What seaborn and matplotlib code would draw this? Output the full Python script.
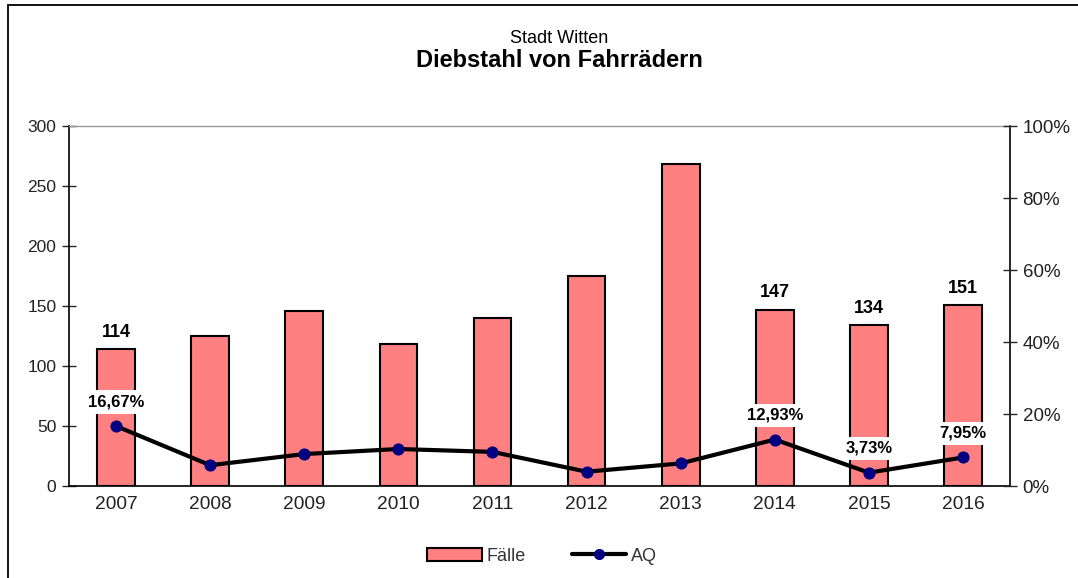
import matplotlib

matplotlib.use("Agg")
import matplotlib.pyplot as plt
import numpy as np
import pandas as pd
import seaborn as sns
from matplotlib.lines import Line2D
from matplotlib.patches import Patch, Rectangle

years = ["2007", "2008", "2009", "2010", "2011", "2012", "2013", "2014", "2015", "2016"]
faelle = [114, 125, 146, 118, 140, 175, 268, 147, 134, 151]
aq = [16.67, 5.8, 8.9, 10.3, 9.5, 4.0, 6.3, 12.93, 3.73, 7.95]
labelled = ["2007", "2014", "2015", "2016"]

sns.set_style("white")
plt.rcParams["font.family"] = ["Liberation Sans", "DejaVu Sans"]
plt.rcParams["text.color"] = "black"

df = pd.DataFrame({"Jahr": years, "Faelle": faelle, "AQ": aq})

fig = plt.figure(figsize=(10.78, 5.78), dpi=100)
ax = fig.add_axes([0.064, 0.159, 0.873, 0.623])

sns.barplot(data=df, x="Jahr", y="Faelle", color="#FF8080", saturation=1,
            edgecolor="black", linewidth=1.5, width=0.4, ax=ax)
ax.set_ylim(0, 300)
ax.set_xlim(-0.5, len(years) - 0.5)
ax.set_yticks(range(0, 301, 50))
ax.set_xlabel("")
ax.set_ylabel("")
ax.set_xticks(np.arange(len(years)))
ax.set_xticklabels(years, fontsize=13.8, color="#222222")
ax.tick_params(axis="x", length=0, pad=7)
ax.set_xticks(np.arange(-0.5, len(years)), minor=True)
ax.tick_params(axis="x", which="minor", direction="inout", length=10, width=1)
ax.tick_params(axis="y", direction="inout", length=10, width=1, labelsize=12.5,
               labelcolor="#222222", pad=4, left=True)
for s in ["left", "bottom", "right"]:
    ax.spines[s].set_color("black")
    ax.spines[s].set_linewidth(1.2)
ax.spines["top"].set_color("#999999")
ax.spines["top"].set_linewidth(1)

for i, (y, v) in enumerate(zip(years, faelle)):
    if y in labelled:
        ax.annotate(str(v), (i, v), textcoords="offset points", xytext=(0, 6),
                    ha="center", va="bottom", fontsize=13, fontweight="bold")

ax2 = ax.twinx()
sns.lineplot(x=np.arange(len(years)), y=aq, color="black", linewidth=3,
             marker="o", markersize=8, markerfacecolor="#000080",
             markeredgecolor="#000080", ax=ax2)
ax2.set_ylim(0, 100)
ax2.set_yticks(range(0, 101, 20))
ax2.set_yticklabels([f"{t}%" for t in range(0, 101, 20)])
ax2.tick_params(axis="y", direction="inout", length=10, width=1, labelsize=13.5,
                labelcolor="#222222", pad=4, right=True)
for s in ax2.spines.values():
    s.set_visible(False)

for i, (y, v) in enumerate(zip(years, aq)):
    if y in labelled:
        ax2.annotate(f"{v:.2f}%".replace(".", ","), (i, v), textcoords="offset points",
                     xytext=(0, 12), ha="center", va="bottom", fontsize=12,
                     fontweight="bold",
                     bbox=dict(boxstyle="square,pad=0.25", fc="white", ec="none"))

fig.text(0.519, 0.933, "Stadt Witten", ha="center", va="center", fontsize=13)
fig.text(0.519, 0.895, "Diebstahl von Fahrrädern", ha="center", va="center",
         fontsize=17, fontweight="bold")

handles = [
    Patch(facecolor="#FF8080", edgecolor="black", linewidth=1.5),
    Line2D([0], [0], color="black", linewidth=3, marker="o", markersize=7,
           markerfacecolor="#000080", markeredgecolor="#000080"),
]
fig.legend(handles, ["Fälle", "AQ"], loc="center", bbox_to_anchor=(0.503, 0.038),
           ncol=2, frameon=False, fontsize=13, handlelength=3.0,
           columnspacing=2.6, handletextpad=0.25, labelcolor="#333333")

fig.add_artist(Rectangle((8 / 1078, -0.1), 1.1, 0.1 + 1 - 5 / 578,
                         transform=fig.transFigure, fill=False, ec="black", lw=1.3))

fig.savefig("out.png", dpi=100)
